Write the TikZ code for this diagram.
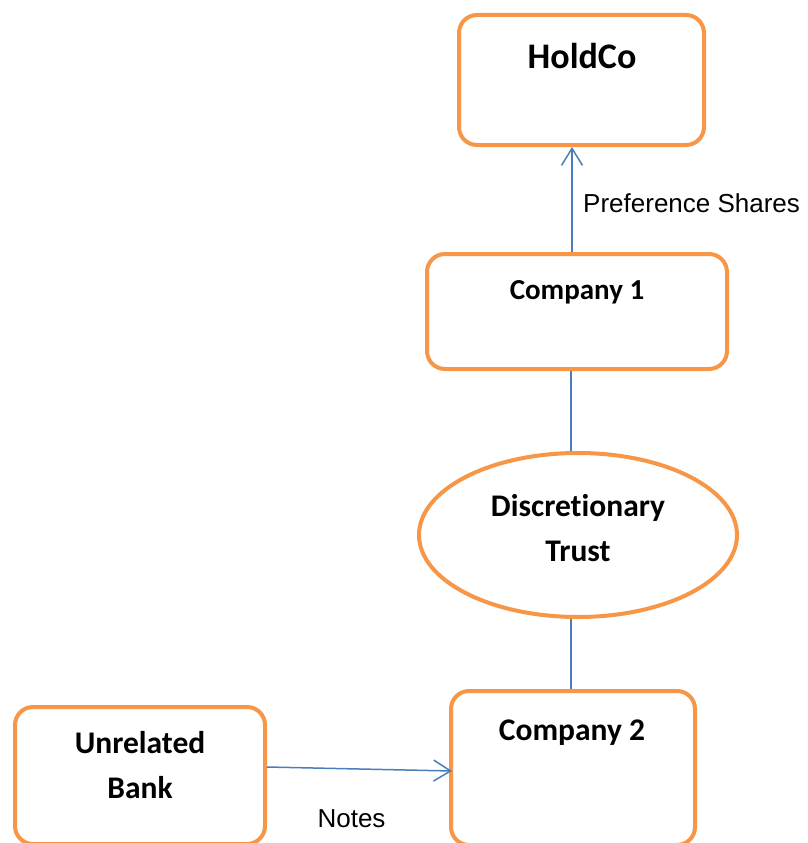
\documentclass[tikz,border=0pt]{standalone}
\usepackage{fontspec}
\setmainfont{Carlito}[Ligatures=NoCommon]
\newfontfamily\labelfont{Liberation Sans}
\usetikzlibrary{shapes.geometric,arrows.meta}
\definecolor{boxorange}{HTML}{F79646}
\definecolor{linkblue}{HTML}{4A7EBB}
\tikzset{
  entity/.style={draw=boxorange, line width=4pt, rounded corners=18pt, fill=white, inner sep=0pt},
  trustshape/.style={draw=boxorange, line width=4pt, ellipse, fill=white, inner sep=0pt},
  entityname/.style={anchor=base, font=\bfseries\fontsize{31.5}{38}\selectfont, inner sep=0pt},
  flowlabel/.style={font=\labelfont\fontsize{26}{30}\selectfont, inner sep=0pt},
  link/.style={draw=linkblue, line width=1.5pt},
  flow/.style={link, -{Straight Barb[length=17pt,width=21pt,line width=1.5pt]}}
}
\begin{document}
\begin{tikzpicture}[x=1pt,y=-1pt]
\useasboundingbox (0,0) rectangle (808,843);

% entity shapes
\node[entity, minimum width=245pt, minimum height=130pt] (holdco) at (581.5,80) {};
\node[entity, minimum width=300pt, minimum height=115pt] (comp1) at (577,311.5) {};
\node[trustshape, minimum width=318pt, minimum height=164pt] (trust) at (578,535) {};
\node[entity, minimum width=244pt, minimum height=154pt] (comp2) at (573,768) {};
\node[entity, minimum width=250pt, minimum height=137pt] (bank) at (140,775.5) {};

% names
\node[entityname, font=\bfseries\fontsize{36}{42}\selectfont] (holdconame) at (582,68) {HoldCo};
\node[entityname, font=\bfseries\fontsize{29}{35}\selectfont] (comp1name) at (577,299) {Company 1};
\node[entityname] (trustname1) at (578,516) {Discretionary};
\node[entityname] (trustname2) at (578,561) {Trust};
\node[entityname] (comp2name) at (572,740) {Company 2};
\node[entityname] (bankname1) at (140,753) {Unrelated};
\node[entityname] (bankname2) at (140,798) {Bank};

% connectors
\draw[flow] ([xshift=-5pt]comp1.north) -- ([xshift=-9.5pt]holdco.south);
\draw[link] ([xshift=-6pt]comp1.south) -- ([xshift=-7pt]trust.north);
\draw[link] ([xshift=-7pt]trust.south) -- ([xshift=-2pt]comp2.north);
\draw[flow] ([yshift=8.5pt]bank.east) -- ([xshift=3pt,yshift=-3pt]comp2.west);

% flow labels
\node[flowlabel, anchor=base west] (prefshares) at (583,212) {Preference Shares};
\node[flowlabel, anchor=base] (notes) at (351.5,827) {Notes};
\end{tikzpicture}
\end{document}
